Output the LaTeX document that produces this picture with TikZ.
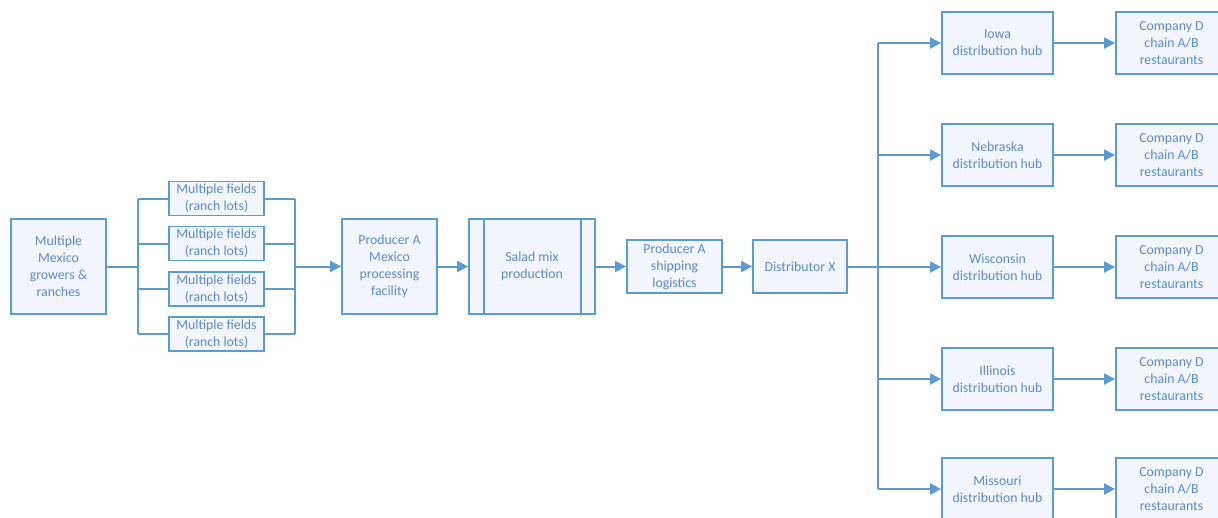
\documentclass[tikz,border=0pt]{standalone}
\usepackage{fontspec}
\setmainfont{Carlito}
\usetikzlibrary{positioning,arrows.meta}
\definecolor{boxblue}{HTML}{5B9BD5}
\definecolor{txtblue}{HTML}{5A8AC8}
\definecolor{boxfill}{HTML}{F2F6FC}

\begin{document}
\begin{tikzpicture}[x=1pt,y=-1pt,
  box/.style={draw=boxblue,line width=1.8pt,fill=boxfill,text=txtblue,align=center,
    inner sep=1pt,font=\fontsize{13.8}{17}\selectfont},
  link/.style={draw=boxblue,line width=2pt},
  arr/.style={link,-{Triangle[length=11pt,width=11pt]}}]
\useasboundingbox (0,0) rectangle (1218,517);
\clip (0,0) rectangle (1218,517);

\node[box,minimum width=95pt,minimum height=95pt] (g) at (58.5,266.5)
  {Multiple\\Mexico\\growers \&\\ranches};
\node[box,minimum width=95pt,minimum height=34pt] (f1) at (216.5,198.5) {Multiple fields\\(ranch lots)};
\node[box,minimum width=95pt,minimum height=34pt] (f2) at (216.5,243.5) {Multiple fields\\(ranch lots)};
\node[box,minimum width=95pt,minimum height=34pt] (f3) at (216.5,289) {Multiple fields\\(ranch lots)};
\node[box,minimum width=95pt,minimum height=34pt] (f4) at (216.5,334) {Multiple fields\\(ranch lots)};
\node[box,minimum width=95pt,minimum height=95pt] (pa) at (389.5,266.5)
  {Producer A\\Mexico\\processing\\facility};
\node[box,minimum width=126pt,minimum height=95pt] (sm) at (532,266.5) {Salad mix\\production};
\node[box,minimum width=95pt,minimum height=53pt] (ps) at (674.5,266.5) {Producer A\\shipping\\logistics};
\node[box,minimum width=94pt,minimum height=53pt] (dx) at (800,266.5) {Distributor X};

\node[box,minimum width=111pt,minimum height=62pt] (ia) at (997.5,43) {Iowa\\distribution hub};
\node[box,minimum width=111pt,minimum height=62pt] (ne) at (997.5,155) {Nebraska\\distribution hub};
\node[box,minimum width=111pt,minimum height=62pt] (wi) at (997.5,267) {Wisconsin\\distribution hub};
\node[box,minimum width=111pt,minimum height=62pt] (il) at (997.5,379) {Illinois\\distribution hub};
\node[box,minimum width=111pt,minimum height=62pt] (mo) at (997.5,489) {Missouri\\distribution hub};

\node[box,minimum width=111pt,minimum height=62pt] (r1) at (1171.5,43) {Company D\\chain A/B\\restaurants};
\node[box,minimum width=111pt,minimum height=62pt] (r2) at (1171.5,155) {Company D\\chain A/B\\restaurants};
\node[box,minimum width=111pt,minimum height=62pt] (r3) at (1171.5,267) {Company D\\chain A/B\\restaurants};
\node[box,minimum width=111pt,minimum height=62pt] (r4) at (1171.5,379) {Company D\\chain A/B\\restaurants};
\node[box,minimum width=111pt,minimum height=62pt] (r5) at (1171.5,489) {Company D\\chain A/B\\restaurants};

% side bars of the production box
\draw[boxblue,line width=1.8pt] ([xshift=16pt]sm.north west) -- ([xshift=16pt]sm.south west);
\draw[boxblue,line width=1.8pt] ([xshift=-15pt]sm.north east) -- ([xshift=-15pt]sm.south east);

\coordinate (lb) at (138,266.5);
\coordinate (rb) at (295,266.5);
\coordinate (db) at (878,266.5);

% fields fan out and in
\draw[link] (g) -- (lb);
\draw[link] (f1.west -| lb) -- (f4.west -| lb);
\draw[link] (f1.west -| lb) -- (f1);
\draw[link] (f2.west -| lb) -- (f2);
\draw[link] (f3.west -| lb) -- (f3);
\draw[link] (f4.west -| lb) -- (f4);
\draw[link] (f1.east -| rb) -- (f4.east -| rb);
\draw[link] (f1) -- (f1.east -| rb);
\draw[link] (f2) -- (f2.east -| rb);
\draw[link] (f3) -- (f3.east -| rb);
\draw[link] (f4) -- (f4.east -| rb);
\draw[arr] (rb) -- (pa);

\draw[arr] (pa) -- (sm);
\draw[arr] (sm) -- (ps);
\draw[arr] (ps) -- (dx);

% distributor to hubs
\draw[link] (dx) -- (db);
\draw[link] (ia.west -| db) -- (mo.west -| db);
\draw[arr] (ia.west -| db) -- (ia);
\draw[arr] (ne.west -| db) -- (ne);
\draw[arr] (wi.west -| db) -- (wi);
\draw[arr] (il.west -| db) -- (il);
\draw[arr] (mo.west -| db) -- (mo);

\draw[arr] (ia) -- (r1);
\draw[arr] (ne) -- (r2);
\draw[arr] (wi) -- (r3);
\draw[arr] (il) -- (r4);
\draw[arr] (mo) -- (r5);
\end{tikzpicture}
\end{document}
